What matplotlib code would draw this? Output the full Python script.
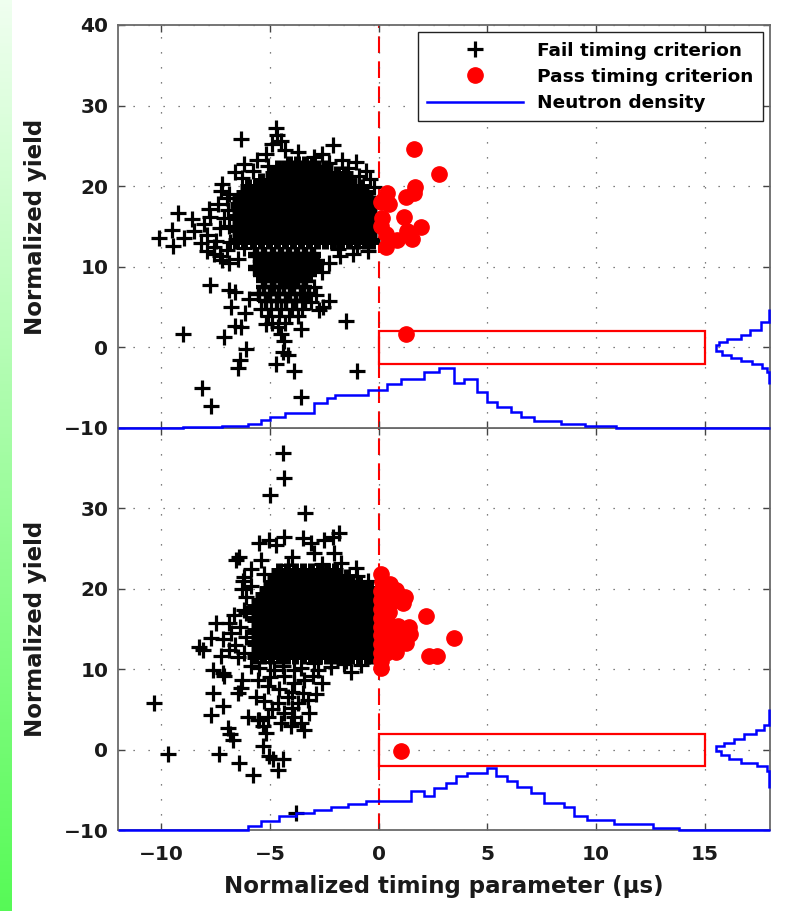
import numpy as np
import matplotlib
matplotlib.use("Agg")
import matplotlib.pyplot as plt
from matplotlib.lines import Line2D
from matplotlib.patches import Rectangle

plt.rcParams["font.family"] = "DejaVu Sans"
plt.rcParams["font.weight"] = "bold"
plt.rcParams["axes.labelweight"] = "bold"

# ---------------- upper panel ----------------
# dense core of failing shots, one list of x per row of yield
top_core_y = [13.2, 13.95, 14.7, 15.45, 16.2, 16.95, 17.7, 18.45, 19.2, 19.95, 20.7, 21.45, 22.2, 22.8]
top_core_x = [
    [-6.55, -6.18, -5.8, -5.44, -5.07, -4.7, -4.33, -3.96, -3.6, -3.22, -2.85, -2.48, -2.11, -1.74, -1.37, -1.0, -0.63, -0.3],
    [-6.37, -6.0, -5.63, -5.26, -4.89, -4.52, -4.15, -3.78, -3.41, -3.04, -2.67, -2.3, -1.93, -1.56, -1.19, -0.82, -0.45],
    [-6.55, -6.18, -5.81, -5.44, -5.07, -4.7, -4.33, -3.96, -3.59, -3.22, -2.85, -2.48, -2.11, -1.74, -1.37, -1.0, -0.63, -0.3],
    [-6.37, -6.0, -5.63, -5.26, -4.89, -4.52, -4.15, -3.78, -3.41, -3.04, -2.67, -2.3, -1.93, -1.56, -1.19, -0.82, -0.45],
    [-6.55, -6.18, -5.81, -5.44, -5.07, -4.7, -4.33, -3.96, -3.59, -3.22, -2.85, -2.48, -2.11, -1.74, -1.37, -1.0, -0.63, -0.3],
    [-6.37, -6.0, -5.63, -5.26, -4.89, -4.52, -4.15, -3.78, -3.41, -3.04, -2.67, -2.3, -1.93, -1.56, -1.19, -0.82, -0.45],
    [-6.5, -6.18, -5.81, -5.44, -5.07, -4.7, -4.33, -3.96, -3.59, -3.22, -2.85, -2.48, -2.11, -1.74, -1.37, -1.0, -0.63, -0.3],
    [-6.37, -6.0, -5.63, -5.26, -4.89, -4.52, -4.15, -3.78, -3.41, -3.04, -2.67, -2.3, -1.93, -1.56, -1.19, -0.82, -0.45],
    [-6.18, -5.81, -5.44, -5.07, -4.7, -4.33, -3.96, -3.59, -3.22, -2.85, -2.48, -2.11, -1.74, -1.37, -1.0, -0.63],
    [-6.0, -5.63, -5.26, -4.89, -4.52, -4.15, -3.78, -3.41, -3.04, -2.67, -2.3, -1.93, -1.56, -1.19, -0.82],
    [-5.44, -5.07, -4.7, -4.33, -3.96, -3.59, -3.22, -2.85, -2.48, -2.11, -1.74, -1.37],
    [-4.89, -4.52, -4.15, -3.78, -3.41, -3.04, -2.67, -2.3, -1.93, -1.56],
    [-4.65, -4.33, -3.96, -3.59, -3.22, -2.85, -2.48],
    [-4.15, -3.78, -3.41, -3.04],
]
# lower lobe hanging below the core
top_lobe_y = [11.4, 10.65, 9.9, 9.15, 8.4, 7.5, 6.6, 5.7, 4.8, 3.9, 3.0]
top_lobe_x = [
    [-5.63, -5.26, -4.89, -4.52, -4.15, -3.78, -3.41, -3.04],
    [-5.44, -5.07, -4.7, -4.33, -3.96, -3.59, -3.22, -2.85],
    [-5.63, -5.26, -4.89, -4.52, -4.15, -3.78, -3.41, -3.04],
    [-5.44, -5.07, -4.7, -4.33, -3.96, -3.59, -3.22],
    [-5.26, -4.89, -4.52, -4.15, -3.78, -3.41],
    [-5.3, -4.8, -4.35, -3.9, -3.45],
    [-5.5, -5.0, -4.6, -4.1, -3.6, -3.2],
    [-5.2, -4.7, -4.25, -3.8, -3.4],
    [-5.4, -4.95, -4.5, -4.0, -3.55],
    [-5.1, -4.6, -4.15, -3.7],
    [-4.9, -4.3],
]
top_fail_extra = [
    (-6.35, 25.8), (-4.75, 27.2), (-4.7, 26.3), (-2.13, 25.1), (-1.03, 23.0),
    (-9.25, 16.7), (-10.1, 13.6), (-9.5, 14.6), (-9.45, 12.6), (-8.95, 13.6),
    (-8.5, 14.5), (-8.05, 15.3), (-7.75, 16.2), (-7.8, 17.2), (-7.2, 20.3),
    (-7.25, 19.4), (-6.6, 21.8), (-7.6, 11.6), (-7.2, 10.8), (-7.75, 7.8),
    (-6.9, 7.1), (-6.6, 6.9), (-6.8, 5.0), (-5.95, 6.0), (-6.15, 4.3),
    (-6.6, 2.6), (-6.35, 2.5), (-7.1, 1.3), (-9.0, 1.6), (-6.1, -0.2),
    (-6.4, -1.6), (-6.5, -2.6), (-8.15, -5.0), (-7.7, -7.3), (-4.75, -2.0),
    (-4.4, -0.6), (-4.35, 0.8), (-3.9, -2.9), (-3.6, -6.2), (-1.0, -2.9),
    (-1.5, 3.3), (-2.6, 9.3), (-2.55, 5.0), (-2.75, 4.6), (-4.5, 1.7),
    (-4.65, 2.5), (-4.2, -0.9), (-3.6, 2.3), (-5.2, 2.9),
    (-8.2, 13.0), (-7.9, 14.0), (-7.5, 13.2), (-7.3, 14.8), (-7.1, 16.0),
    (-7.4, 17.8), (-7.0, 18.5), (-8.6, 15.9), (-7.6, 12.4), (-7.0, 12.1),
    (-7.9, 11.9), (-7.3, 11.3), (-6.9, 10.5), (-6.5, 11.0),
    (-5.6, 23.2), (-4.3, 24.5), (-3.7, 24.3), (-5.2, 24.0), (-3.0, 23.6),
    (-2.6, 24.0), (-1.7, 23.3), (-0.6, 21.9), (-0.4, 20.9), (-6.2, 22.7),
    (-4.9, 25.2), (-4.5, 25.6),
    (-2.3, 10.5), (-1.8, 11.3), (-1.2, 11.6), (-0.5, 11.9), (-3.0, 7.5),
    (-2.9, 6.5), (-3.1, 5.6), (-2.3, 5.8),
    (-6.3, 21.0), (-5.8, 21.9), (-5.1, 22.5), (-2.3, 22.9), (-1.4, 22.3),
    (-0.9, 21.2), (-6.9, 19.0), (-6.95, 17.0), (-6.9, 15.0), (-6.85, 13.1),
    (-6.2, 12.3), (-1.9, 12.2), (-1.0, 12.4), (-0.2, 19.9),
]
top_pass = [
    (1.62, 24.6), (2.76, 21.5), (1.66, 19.9), (1.62, 19.1), (1.24, 18.6),
    (0.40, 19.1), (0.47, 17.8), (0.25, 18.4), (0.10, 18.0), (1.16, 16.2),
    (1.93, 14.9), (1.55, 13.5), (0.86, 13.3), (0.32, 12.4), (0.32, 14.1),
    (0.09, 15.1), (0.15, 16.0), (1.32, 14.5), (1.24, 1.7),
]
# neutron density along timing (stairs) and along yield (side profile)
dens_top_edges = [-12, -9.0, -7.2, -6.0, -5.4, -5.0, -4.3, -3.0, -2.4, -2.0, -0.5, 0.4, 1.0, 2.08,
                  2.77, 3.46, 3.92, 4.54, 5.0, 5.46, 6.07, 6.53, 7.15, 8.4, 9.5, 10.9, 18]
dens_top_vals = [-10.0, -9.9, -9.8, -9.5, -8.95, -8.6, -8.2, -6.9, -6.3, -5.9, -5.3, -4.5, -3.9,
                 -3.1, -2.6, -4.4, -3.9, -5.5, -6.8, -7.4, -8.0, -8.6, -9.1, -9.5, -9.8, -10.0]
side_top_edges = [-4.5, -3.1, -2.5, -2.1, -1.7, -1.3, -0.9, -0.5, 0.3, 0.7, 1.1, 1.5, 2.1, 3.1, 4.8]
side_top_vals = [17.97, 17.87, 17.64, 17.17, 16.65, 16.19, 15.8, 15.5, 15.65, 16.04, 16.65, 17.1, 17.57, 17.95]

# ---------------- lower panel ----------------
bot_core_y = [11.7, 12.45, 13.2, 13.95, 14.7, 15.45, 16.2, 16.95, 17.7, 18.45, 19.2, 19.95, 20.7, 21.45, 22.2]
bot_core_x = [
    [-5.7, -5.33, -4.96, -4.59, -4.22, -3.85, -3.48, -3.11, -2.74, -2.37, -2.0, -1.63, -1.26, -0.89, -0.52, -0.3],
    [-5.52, -5.15, -4.78, -4.41, -4.04, -3.67, -3.3, -2.93, -2.56, -2.19, -1.82, -1.45, -1.08, -0.71, -0.38],
    [-5.7, -5.33, -4.96, -4.59, -4.22, -3.85, -3.48, -3.11, -2.74, -2.37, -2.0, -1.63, -1.26, -0.89, -0.52, -0.3],
    [-5.52, -5.15, -4.78, -4.41, -4.04, -3.67, -3.3, -2.93, -2.56, -2.19, -1.82, -1.45, -1.08, -0.71, -0.38],
    [-5.7, -5.33, -4.96, -4.59, -4.22, -3.85, -3.48, -3.11, -2.74, -2.37, -2.0, -1.63, -1.26, -0.89, -0.52, -0.3],
    [-5.52, -5.15, -4.78, -4.41, -4.04, -3.67, -3.3, -2.93, -2.56, -2.19, -1.82, -1.45, -1.08, -0.71, -0.38],
    [-5.7, -5.33, -4.96, -4.59, -4.22, -3.85, -3.48, -3.11, -2.74, -2.37, -2.0, -1.63, -1.26, -0.89, -0.52, -0.3],
    [-5.52, -5.15, -4.78, -4.41, -4.04, -3.67, -3.3, -2.93, -2.56, -2.19, -1.82, -1.45, -1.08, -0.71, -0.38],
    [-5.7, -5.33, -4.96, -4.59, -4.22, -3.85, -3.48, -3.11, -2.74, -2.37, -2.0, -1.63, -1.26, -0.89, -0.52, -0.3],
    [-5.52, -5.15, -4.78, -4.41, -4.04, -3.67, -3.3, -2.93, -2.56, -2.19, -1.82, -1.45, -1.08, -0.71, -0.38],
    [-5.33, -4.96, -4.59, -4.22, -3.85, -3.48, -3.11, -2.74, -2.37, -2.0, -1.63, -1.26, -0.89, -0.52],
    [-5.15, -4.78, -4.41, -4.04, -3.67, -3.3, -2.93, -2.56, -2.19, -1.82, -1.45, -1.08, -0.71, -0.4],
    [-4.96, -4.59, -4.22, -3.85, -3.48, -3.11, -2.74, -2.37, -2.0, -1.63, -1.26, -0.89],
    [-4.78, -4.41, -4.04, -3.67, -3.3, -2.93, -2.56, -2.19, -1.82, -1.45],
    [-4.59, -4.22, -3.85, -3.48, -3.11, -2.74, -2.37, -2.0],
]
bot_fail_extra = [
    (-4.43, 36.9), (-4.36, 33.8), (-5.0, 31.7), (-3.4, 29.4),
    (-5.5, 25.7), (-5.05, 26.1), (-4.74, 25.5), (-4.36, 26.5), (-3.51, 26.3),
    (-3.13, 25.7), (-2.52, 26.1), (-2.13, 26.5), (-1.82, 26.9), (-2.06, 24.4),
    (-1.75, 23.2), (-1.06, 22.6), (-6.43, 24.0), (-6.58, 23.6), (-5.43, 23.6),
    (-6.2, 21.5), (-6.27, 21.0), (-4.0, 24.0), (-3.0, 24.5), (-5.9, 22.5),
    (-6.3, 20.0), (-6.1, 19.0),
    (-10.34, 5.8), (-9.72, -0.6), (-8.26, 12.8), (-8.11, 12.4), (-7.5, 15.7),
    (-7.73, 13.9), (-7.19, 13.7), (-6.81, 14.5), (-6.65, 16.8), (-6.2, 17.4),
    (-7.27, 11.6), (-7.65, 9.9), (-7.19, 9.5), (-7.11, 9.1), (-7.65, 7.0),
    (-7.73, 4.3), (-7.19, 5.4), (-6.96, 2.7), (-6.85, 1.9), (-6.73, 1.2),
    (-7.35, -0.6), (-6.43, -1.7), (-5.81, -3.1), (-6.5, 7.0), (-6.3, 8.7),
    (-6.35, 7.6), (-5.66, 6.6), (-5.58, 8.7), (-5.12, 7.9), (-6.04, 4.1),
    (-5.5, 3.7), (-5.35, 2.9), (-5.2, 2.1), (-5.35, 0.4), (-5.05, -0.8),
    (-4.85, -1.2), (-4.66, -2.5), (-4.43, -1.2), (-3.82, -7.9), (-6.9, 12.4),
    (-6.6, 13.0), (-6.5, 11.5), (-6.9, 15.8), (-6.4, 15.2),
    (-4.36, 9.1), (-3.9, 8.3), (-3.44, 8.7), (-3.05, 9.1), (-4.2, 6.6),
    (-3.74, 5.8), (-3.28, 6.2), (-4.66, 5.8), (-4.36, 4.6), (-3.9, 4.1),
    (-3.59, 3.3), (-3.44, 2.5), (-4.05, 2.9), (-4.51, 3.3), (-5.12, 4.1),
    (-5.58, 3.7), (-4.8, 9.9), (-3.9, 9.9), (-2.82, 9.9), (-1.29, 9.7),
    (-5.0, 9.0), (-4.6, 7.5), (-4.0, 7.2), (-3.5, 7.0), (-5.3, 6.0),
    (-4.9, 5.0), (-4.0, 5.2), (-3.2, 4.5), (-2.9, 6.9), (-2.6, 8.3),
    (-3.6, 10.2), (-4.4, 10.4), (-2.2, 10.3), (-1.6, 10.6), (-0.8, 10.5),
    (-5.5, 10.2), (-5.9, 10.4),
    (-6.1, 17.0), (-6.1, 14.0), (-6.2, 12.0), (-5.9, 20.3), (-5.3, 21.8),
    (-1.0, 21.6), (-0.5, 21.0), (-5.0, 10.9), (-3.0, 10.8), (-1.5, 11.0),
    (-4.2, 23.0), (-2.6, 23.1),
]
bot_pass = [
    (0.10, 21.9), (0.15, 20.8), (0.50, 20.6), (0.80, 19.9), (0.10, 19.7),
    (0.45, 19.4), (1.20, 19.0), (0.85, 18.8), (0.10, 18.6), (1.10, 18.2),
    (0.50, 18.2), (0.10, 17.5), (0.45, 17.1), (0.10, 16.4), (0.40, 16.0),
    (0.10, 15.3), (0.50, 15.0), (0.90, 15.4), (1.40, 15.3), (1.45, 14.4),
    (1.00, 14.2), (0.50, 13.9), (0.10, 14.2), (0.10, 13.1), (0.50, 12.8),
    (0.90, 13.0), (1.25, 13.2), (0.35, 12.0), (0.80, 12.1), (0.10, 12.0),
    (0.10, 11.0), (0.10, 10.1), (2.16, 16.6), (3.47, 13.9), (2.31, 11.6),
    (2.70, 11.6), (1.01, -0.2),
]
dens_bot_edges = [-12, -6.0, -5.4, -4.6, -3.8, -3.0, -2.2, -1.4, -0.6, 1.47, 2.08, 2.54, 3.08, 3.54,
                  4.08, 5.0, 5.38, 5.92, 6.38, 6.99, 7.6, 8.5, 8.97, 9.58, 10.8, 12.6, 13.8, 18]
dens_bot_vals = [-10.0, -9.5, -8.9, -8.3, -7.9, -7.45, -7.1, -6.8, -6.4, -5.2, -5.8, -4.8, -4.1,
                 -3.3, -2.9, -2.3, -3.3, -3.9, -4.6, -5.4, -6.6, -7.2, -8.3, -8.7, -9.3, -9.8, -10.0]
side_bot_edges = [-4.8, -2.7, -2.1, -1.7, -1.2, -0.7, -0.2, 0.4, 0.8, 1.3, 1.9, 2.5, 3.1, 5.0]
side_bot_vals = [17.97, 17.87, 17.42, 16.65, 16.1, 15.73, 15.5, 15.88, 16.35, 16.8, 17.34, 17.72, 17.97]

x_ticks = [-10, -5, 0, 5, 10, 15]
window = (0, 15, -2, 2)  # accepted region: x0, x1, y0, y1


def rows_to_points(row_y, row_x):
    pts = []
    for y, xs in zip(row_y, row_x):
        pts += [(x, y) for x in xs]
    return np.array(pts)


def plus(ax, pts, mew):
    ax.plot(pts[:, 0], pts[:, 1], ls="none", marker="+", ms=11, mew=mew,
            color="black", zorder=2)


def draw_panel(ax, core, lobe, extra, pass_pts, d_edges, d_vals, s_edges, s_vals):
    ax.axvline(0, color="red", lw=1.5, ls=(0, (8, 4)), zorder=1.5)
    # overlapping crosses in the crowded middle drawn with a heavier stroke
    plus(ax, core, 5.0)
    if lobe is not None:
        plus(ax, lobe[lobe[:, 1] > 8], 4.6)
        plus(ax, lobe[(lobe[:, 1] <= 8) & (lobe[:, 1] > 5)], 3.2)
        plus(ax, lobe[lobe[:, 1] <= 5], 2.3)
    plus(ax, np.array(extra), 2.3)
    good = np.array(pass_pts)
    ax.plot(good[:, 0], good[:, 1], ls="none", marker="o", ms=11,
            color="red", mec="red", zorder=3)
    x0, x1, y0, y1 = window
    ax.add_patch(Rectangle((x0, y0), x1 - x0, y1 - y0, fill=False,
                           ec="red", lw=1.6, zorder=3))
    ax.stairs(d_vals, d_edges, baseline=None, color="blue", lw=1.8,
              zorder=4, clip_on=False)
    ax.stairs(s_vals, s_edges, baseline=None, orientation="horizontal",
              color="blue", lw=1.8, zorder=4, clip_on=False)
    ax.set_xlim(-12, 18)
    ax.set_ylim(-10, 40)
    ax.set_xticks(x_ticks)
    ax.grid(True, color="#555555", lw=0.9, ls=(0, (1, 11)))
    ax.tick_params(direction="in", length=5, width=1, top=True, right=True,
                   labelsize=14.5, pad=7, color="#444444", labelcolor="#1a1a1a")
    ax.tick_params(axis="x", pad=11)
    for s in ax.spines.values():
        s.set_color("#6a6a6a")
        s.set_linewidth(1.3)
    ax.set_ylabel("Normalized yield", fontsize=16.5, color="#1a1a1a", labelpad=12)


fig = plt.figure(figsize=(7.93, 9.11), dpi=100)

# green strip along the left edge
gax = fig.add_axes([0, 0, 12 / 793, 1])
g = np.linspace(0, 1, 256)[:, None, None]
c_top = np.array([0.94, 1.0, 0.94])
c_bot = np.array([0.34, 0.98, 0.34])
gax.imshow(c_top * (1 - g) + c_bot * g, aspect="auto")
gax.axis("off")

ax_top = fig.add_axes([0.1488, 0.5302, 0.8222, 0.4424])
ax_bot = fig.add_axes([0.1488, 0.0889, 0.8222, 0.4413])
ax_top.set_zorder(3)  # keep the upper density line over the shared edge

draw_panel(ax_top, rows_to_points(top_core_y, top_core_x),
           rows_to_points(top_lobe_y, top_lobe_x), top_fail_extra,
           top_pass, dens_top_edges, dens_top_vals, side_top_edges, side_top_vals)
draw_panel(ax_bot, rows_to_points(bot_core_y, bot_core_x), None, bot_fail_extra,
           bot_pass, dens_bot_edges, dens_bot_vals, side_bot_edges, side_bot_vals)

ax_top.set_yticks([-10, 0, 10, 20, 30, 40])
ax_top.tick_params(labelbottom=False)
ax_bot.set_yticks([-10, 0, 10, 20, 30])
ax_bot.set_xlabel("Normalized timing parameter (µs)", fontsize=16.5,
                  color="#1a1a1a", labelpad=8)

handles = [
    Line2D([], [], ls="none", marker="+", ms=11, mew=2.3, color="black"),
    Line2D([], [], ls="none", marker="o", ms=11, color="red"),
    Line2D([], [], color="blue", lw=1.8),
]
leg = ax_top.legend(handles, ["Fail timing criterion", "Pass timing criterion", "Neutron density"],
                    loc="upper right", fontsize=13.3, handlelength=5.2, handletextpad=0.75,
                    labelspacing=0.45, borderpad=0.5, borderaxespad=0.4,
                    fancybox=False, framealpha=1, edgecolor="#222222")
leg.get_frame().set_linewidth(1.0)
leg.set_zorder(10)

fig.savefig("out.png", dpi=100)
